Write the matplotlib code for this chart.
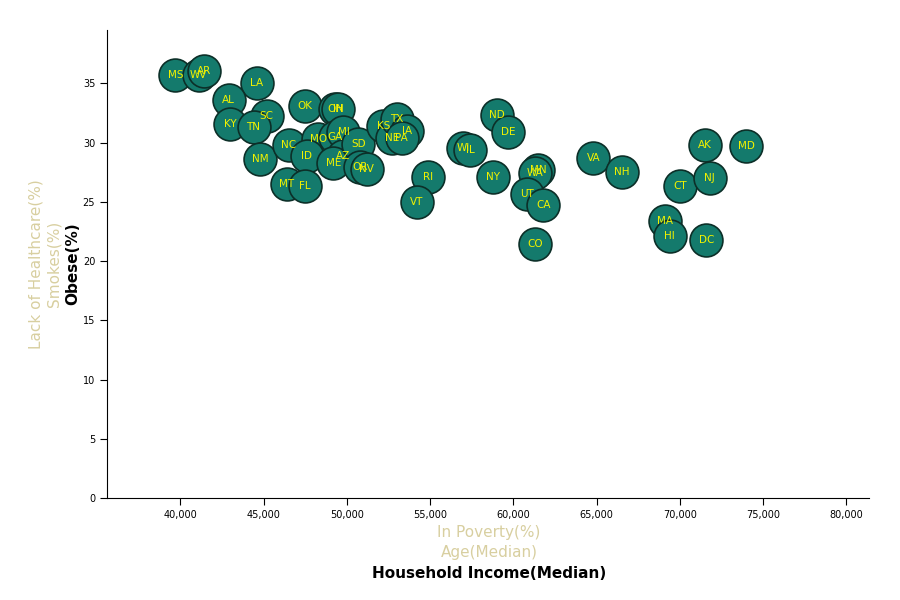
import matplotlib.pyplot as plt
from matplotlib.ticker import FuncFormatter

states = ['MS', 'WV', 'AR', 'LA', 'AL', 'KY', 'SC', 'TN', 'NM', 'NC', 'OK', 'OH', 'IN',
          'MO', 'GA', 'MI', 'ID', 'AZ', 'ME', 'SD', 'OR', 'NV', 'MT', 'FL', 'KS', 'NE',
          'TX', 'IA', 'PA', 'RI', 'VT', 'WI', 'IL', 'ND', 'DE', 'NY', 'MN', 'WA', 'UT',
          'CA', 'CO', 'VA', 'NH', 'AK', 'MD', 'CT', 'NJ', 'MA', 'HI', 'DC']
income = [39700, 41100, 41400, 44600, 42900, 43000, 45200, 44400, 44800, 46500, 47500, 49300, 49500,
          48300, 49300, 49800, 47600, 49800, 49200, 50700, 50800, 51200, 46400, 47500, 52200, 52700,
          53000, 53600, 53300, 54900, 54200, 57000, 57400, 59000, 59700, 58800, 61500, 61300, 60800,
          61800, 61300, 64800, 66500, 71500, 74000, 70000, 71800, 69100, 69400, 71600]
obese = [35.7, 35.7, 36.0, 35.0, 33.6, 31.6, 32.2, 31.3, 28.6, 29.8, 33.1, 32.8, 32.8,
         30.3, 30.5, 30.9, 28.9, 28.9, 28.3, 29.9, 27.9, 27.8, 26.5, 26.3, 31.4, 30.4,
         32.0, 31.0, 30.4, 27.1, 25.0, 29.5, 29.4, 32.3, 30.9, 27.1, 27.7, 27.4, 25.7,
         24.7, 21.4, 28.7, 27.5, 29.8, 29.7, 26.3, 27.0, 23.4, 22.1, 21.8]

fig = plt.figure(figsize=(9, 6), dpi=100)
ax = fig.add_axes([107/900, 1 - 498/600, 762/900, 468/600])
ax.scatter(income, obese, s=560, color='#147a6c', edgecolor='#0c2f28', linewidth=1.2, zorder=2)
for s, x, y in zip(states, income, obese):
    ax.text(x, y, s, color='#f2f200', fontsize=7.5, ha='center', va='center', zorder=3)

ax.set_xlim(35600, 81360)
ax.set_ylim(0, 39.5)
ax.set_xticks(range(40000, 80001, 5000))
ax.set_yticks(range(0, 36, 5))
ax.xaxis.set_major_formatter(FuncFormatter(lambda v, p: f'{int(v):,}'))
ax.tick_params(labelsize=7, length=5)
for side in ['top', 'right']:
    ax.spines[side].set_visible(False)

faint = '#d8cfa0'
fig.text(489/900, 1 - 533/600, 'In Poverty(%)', ha='center', va='center', fontsize=11, color=faint)
fig.text(489/900, 1 - 552/600, 'Age(Median)', ha='center', va='center', fontsize=11, color=faint)
fig.text(489/900, 1 - 573/600, 'Household Income(Median)', ha='center', va='center', fontsize=11,
         fontweight='bold', color='black')
fig.text(36/900, 1 - 264/600, 'Lack of Healthcare(%)', rotation=90, ha='center', va='center',
         fontsize=11, color=faint)
fig.text(54/900, 1 - 264/600, 'Smokes(%)', rotation=90, ha='center', va='center', fontsize=11, color=faint)
fig.text(73/900, 1 - 264/600, 'Obese(%)', rotation=90, ha='center', va='center', fontsize=11,
         fontweight='bold', color='black')

plt.savefig('out.png')
